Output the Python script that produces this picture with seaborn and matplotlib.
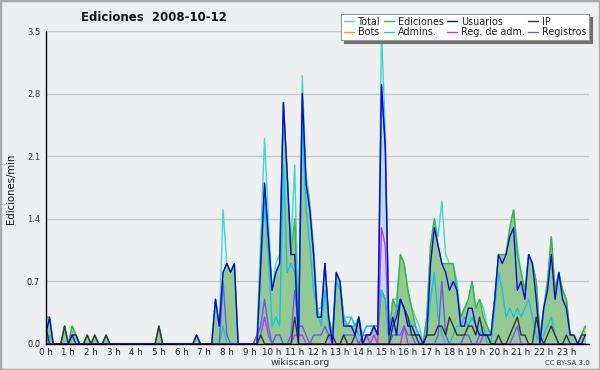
import numpy as np
import pandas as pd
import matplotlib
matplotlib.use("Agg")
import matplotlib.pyplot as plt
import seaborn as sns
from matplotlib.lines import Line2D
from matplotlib.patches import Rectangle
from matplotlib.ticker import MultipleLocator, FixedLocator

# 10-minute bins, 144 per day (one row = one hour)
total = [
    0.3, 0.3, 0, 0, 0, 0.2,
    0, 0.2, 0.1, 0, 0, 0.1,
    0, 0.1, 0, 0, 0.1, 0,
    0, 0, 0, 0, 0, 0,
    0, 0, 0, 0, 0, 0,
    0.2, 0, 0, 0, 0, 0,
    0, 0, 0, 0, 0.1, 0,
    0, 0, 0, 0.5, 0.2, 1.5,
    0.9, 0.8, 0.9, 0, 0, 0,
    0, 0, 0.1, 1.2, 2.3, 1.4,
    0.6, 0.9, 1.0, 2.7, 1.9, 1.1,
    2.0, 0.2, 3.0, 1.9, 1.6, 1.1,
    0.4, 0.4, 0.9, 0.3, 0.1, 0.8,
    0.7, 0.3, 0.3, 0.3, 0.2, 0.3,
    0.1, 0.2, 0.2, 0.2, 0.2, 3.5,
    2.4, 0.1, 0.5, 0.5, 1.0, 0.9,
    0.6, 0.4, 0.3, 0.2, 0, 0.3,
    1.1, 1.4, 1.2, 1.6, 1.0, 0.9,
    0.9, 0.7, 0.3, 0.4, 0.5, 0.7,
    0.4, 0.5, 0.4, 0.2, 0.1, 0.5,
    1.0, 1.0, 1.0, 1.3, 1.5, 1.1,
    0.8, 0.6, 1.0, 0.9, 0.7, 0.1,
    0.4, 0.7, 1.2, 0.6, 0.8, 0.6,
    0.5, 0.1, 0.1, 0, 0.1, 0.2,
]
ediciones = [
    0.3, 0.3, 0, 0, 0, 0.2,
    0, 0.2, 0.1, 0, 0, 0.1,
    0, 0.1, 0, 0, 0.1, 0,
    0, 0, 0, 0, 0, 0,
    0, 0, 0, 0, 0, 0,
    0.2, 0, 0, 0, 0, 0,
    0, 0, 0, 0, 0.1, 0,
    0, 0, 0, 0.5, 0.2, 0.8,
    0.9, 0.8, 0.9, 0, 0, 0,
    0, 0, 0, 1.0, 1.8, 1.2,
    0.6, 0.8, 0.9, 2.7, 1.9, 1.0,
    1.4, 0.1, 2.8, 1.8, 1.5, 1.0,
    0.3, 0.3, 0.9, 0.3, 0.1, 0.8,
    0.7, 0.3, 0.2, 0.2, 0.2, 0.3,
    0, 0.1, 0.1, 0.2, 0.1, 0.6,
    0.5, 0.1, 0.5, 0.4, 1.0, 0.9,
    0.6, 0.4, 0.2, 0.1, 0, 0.3,
    1.1, 1.4, 1.1, 0.9, 0.9, 0.9,
    0.9, 0.6, 0.3, 0.4, 0.5, 0.7,
    0.4, 0.5, 0.3, 0.2, 0.1, 0.5,
    1.0, 1.0, 1.0, 1.3, 1.5, 1.0,
    0.8, 0.6, 1.0, 0.9, 0.7, 0.1,
    0.4, 0.7, 1.2, 0.6, 0.8, 0.6,
    0.5, 0.1, 0.1, 0, 0.1, 0.2,
]
usuarios = [
    0.1, 0.3, 0, 0, 0, 0,
    0, 0.1, 0.1, 0, 0, 0,
    0, 0, 0, 0, 0, 0,
    0, 0, 0, 0, 0, 0,
    0, 0, 0, 0, 0, 0,
    0, 0, 0, 0, 0, 0,
    0, 0, 0, 0, 0.1, 0,
    0, 0, 0, 0.5, 0.2, 0.8,
    0.9, 0.8, 0.9, 0, 0, 0,
    0, 0, 0, 0.9, 1.8, 1.2,
    0.6, 0.8, 0.9, 2.7, 1.9, 1.0,
    1.0, 0, 2.8, 1.8, 1.5, 1.0,
    0.3, 0.3, 0.9, 0.3, 0, 0.8,
    0.7, 0.2, 0.2, 0.2, 0.1, 0.3,
    0, 0.1, 0.1, 0.2, 0.1, 2.9,
    2.2, 0.1, 0.3, 0.1, 0.5, 0.4,
    0.2, 0.2, 0.1, 0.1, 0, 0.1,
    0.9, 1.3, 1.1, 0.9, 0.8, 0.6,
    0.7, 0.6, 0.2, 0.2, 0.4, 0.4,
    0.2, 0.1, 0.1, 0.1, 0.1, 0.5,
    1.0, 0.9, 1.0, 1.2, 1.3, 0.6,
    0.7, 0.5, 1.0, 0.9, 0.5, 0,
    0.4, 0.6, 1.0, 0.5, 0.8, 0.5,
    0.4, 0.1, 0.1, 0, 0, 0.1,
]
ip = [
    0.2, 0, 0, 0, 0, 0.2,
    0, 0.1, 0, 0, 0, 0.1,
    0, 0.1, 0, 0, 0.1, 0,
    0, 0, 0, 0, 0, 0,
    0, 0, 0, 0, 0, 0,
    0.2, 0, 0, 0, 0, 0,
    0, 0, 0, 0, 0, 0,
    0, 0, 0, 0, 0, 0,
    0, 0, 0, 0, 0, 0,
    0, 0, 0, 0.1, 0, 0,
    0, 0, 0, 0, 0, 0,
    0.3, 0, 0, 0, 0, 0,
    0, 0, 0, 0.1, 0.1, 0,
    0, 0.1, 0, 0, 0.1, 0.3,
    0, 0, 0, 0, 0, 0,
    0, 0, 0.2, 0.3, 0.5, 0.4,
    0.3, 0.1, 0.1, 0, 0, 0.1,
    0.1, 0.1, 0.2, 0.2, 0.1, 0.3,
    0.2, 0.1, 0.1, 0.1, 0.2, 0.2,
    0.1, 0.3, 0.1, 0.1, 0, 0,
    0.1, 0, 0, 0.1, 0.2, 0.3,
    0.1, 0.1, 0, 0, 0.3, 0.1,
    0, 0.1, 0.2, 0.1, 0, 0,
    0.1, 0, 0, 0, 0.1, 0.1,
]
bots = [0] * 144
admins = [
    0, 0.1, 0, 0, 0, 0,
    0, 0, 0, 0, 0, 0,
    0, 0, 0, 0, 0, 0,
    0, 0, 0, 0, 0, 0,
    0, 0, 0, 0, 0, 0,
    0, 0, 0, 0, 0, 0,
    0, 0, 0, 0, 0, 0,
    0, 0, 0, 0, 0, 0.2,
    0, 0, 0, 0, 0, 0,
    0, 0, 0, 0.8, 1.6, 1.0,
    0.2, 0.3, 0.2, 2.0, 0.8, 0.9,
    0.8, 0.1, 2.5, 1.5, 1.1, 0.6,
    0.4, 0.2, 0.6, 0.2, 0, 0.7,
    0.6, 0.3, 0.2, 0.3, 0.2, 0.1,
    0.1, 0.2, 0.2, 0.2, 0.2, 0.6,
    0.5, 0, 0.2, 0.4, 0.5, 0.4,
    0.3, 0.2, 0.2, 0.1, 0, 0.1,
    0.5, 0.8, 0.3, 0.1, 0, 0,
    0.1, 0.2, 0.2, 0.3, 0.2, 0.3,
    0.2, 0.1, 0.2, 0, 0, 0.4,
    0.8, 0.6, 0.3, 0.4, 0.3, 0.4,
    0.3, 0.4, 0.5, 0.3, 0.1, 0,
    0.1, 0.2, 0.3, 0.1, 0, 0,
    0, 0, 0, 0, 0, 0,
]
reg_adm = [
    0, 0, 0, 0, 0, 0,
    0, 0, 0, 0, 0, 0,
    0, 0, 0, 0, 0, 0,
    0, 0, 0, 0, 0, 0,
    0, 0, 0, 0, 0, 0,
    0, 0, 0, 0, 0, 0,
    0, 0, 0, 0, 0, 0,
    0, 0, 0, 0, 0, 0,
    0, 0, 0, 0, 0, 0,
    0, 0, 0, 0.1, 0.3, 0.1,
    0, 0, 0, 0, 0, 0,
    0.1, 0.1, 0.1, 0, 0, 0,
    0, 0, 0, 0, 0, 0,
    0, 0, 0, 0, 0, 0,
    0, 0.1, 0, 0.1, 0, 1.3,
    1.1, 0, 0, 0, 0, 0.2,
    0, 0, 0, 0, 0, 0,
    0, 0, 0, 0, 0, 0,
    0, 0, 0, 0, 0, 0,
    0, 0, 0.1, 0.1, 0, 0,
    0, 0, 0, 0, 0, 0,
    0, 0, 0, 0, 0, 0,
    0, 0, 0, 0, 0, 0,
    0, 0, 0, 0, 0, 0,
]
registros = [
    0, 0, 0, 0, 0, 0,
    0, 0, 0, 0, 0, 0,
    0, 0, 0, 0, 0, 0,
    0, 0, 0, 0, 0, 0,
    0, 0, 0, 0, 0, 0,
    0, 0, 0, 0, 0, 0,
    0, 0, 0, 0, 0, 0,
    0, 0, 0, 0, 0, 0.7,
    0.1, 0, 0, 0, 0, 0,
    0, 0, 0.1, 0.2, 0.5, 0.2,
    0, 0.1, 0.1, 0, 0, 0.1,
    0.6, 0.2, 0.2, 0.1, 0, 0.1,
    0.1, 0.1, 0.2, 0.1, 0, 0,
    0, 0.1, 0.1, 0.1, 0.1, 0,
    0.1, 0.1, 0.1, 0.2, 0.1, 2.9,
    2.2, 0, 0.1, 0.1, 0.1, 0.2,
    0.1, 0.1, 0, 0, 0, 0,
    0, 0, 0.1, 0.7, 0.1, 0,
    0, 0, 0, 0.1, 0.1, 0,
    0, 0.1, 0.1, 0.1, 0, 0,
    0, 0, 0, 0, 0.1, 0.2,
    0, 0, 0, 0, 0, 0,
    0, 0, 0, 0, 0, 0,
    0, 0, 0, 0, 0, 0,
]

hour_labels = [f"{h} h" for h in range(24)]
y_labels = ["0.0", "0.7", "1.4", "2.1", "2.8", "3.5"]

hours = np.arange(len(total)) / 6.0
df = pd.DataFrame({
    "hora": hours, "Total": total, "Ediciones": ediciones, "Usuarios": usuarios,
    "IP": ip, "Bots": bots, "Admins.": admins, "Reg. de adm.": reg_adm,
    "Registros": registros,
})

colors = {
    "Total": "#3fd8cc",
    "Ediciones": "#3cb43c",
    "Usuarios": "#0a0ad8",
    "IP": "#333333",
    "Bots": "#f59a3a",
    "Admins.": "#1cbfe0",
    "Reg. de adm.": "#c433ee",
    "Registros": "#6a5af2",
}

sns.set_style("white")
plt.rcParams['font.family'] = ['DejaVu Sans']

BG = "#eeeff1"
fig = plt.figure(figsize=(6, 3.7), dpi=100, facecolor=BG)
ax = fig.add_axes([0.0762, 0.0703, 0.9055, 0.8459])
ax.set_facecolor(BG)

ax.fill_between(df["hora"], df["Registros"], color="#c2dae5", lw=0, zorder=1)
ax.fill_between(df["hora"], df["Ediciones"], color="#94c994", lw=0, zorder=2)

draw_order = ["Total", "Ediciones", "Bots", "Admins.", "Reg. de adm.",
              "Registros", "IP", "Usuarios"]
for k, name in enumerate(draw_order):
    sns.lineplot(data=df, x="hora", y=name, color=colors[name], lw=1.0,
                 ax=ax, legend=False, zorder=3 + k)

ax.set_xlim(0, 24)
ax.set_ylim(0, 3.5)
ax.set_xlabel("")
ax.set_ylabel("")

ax.yaxis.set_major_locator(FixedLocator([0, 0.7, 1.4, 2.1, 2.8, 3.5]))
ax.set_yticklabels(y_labels)
ax.yaxis.set_minor_locator(MultipleLocator(0.35))
ax.xaxis.set_major_locator(FixedLocator(list(range(24))))
ax.set_xticklabels(hour_labels)
ax.xaxis.set_minor_locator(MultipleLocator(1 / 6))

ax.grid(axis="y", color="#c9c9c9", lw=1.0, zorder=0)
ax.set_axisbelow(True)
for s in ["top", "right"]:
    ax.spines[s].set_visible(False)
for s in ["left", "bottom"]:
    ax.spines[s].set_color("black")
    ax.spines[s].set_linewidth(1.0)
    ax.spines[s].set_zorder(20)

ax.tick_params(axis="both", which="both", direction="out", length=3,
               width=0.9, color="black")
ax.tick_params(axis="y", labelsize=6, labelcolor="#333333", pad=1)
ax.tick_params(axis="x", labelsize=6.3, labelcolor="#222222", pad=0.2)

fig.text(0.257, 0.953, "Ediciones  2008-10-12", ha="center", va="center",
         fontsize=8.5, fontweight="bold", color="#111111")
fig.text(0.018, 0.49, "Ediciones/min", rotation=90, ha="center", va="center",
         fontsize=7.3, color="#111111")
fig.text(0.5, 0.02, "wikiscan.org", ha="center", va="center",
         fontsize=6.8, color="#333333")
fig.text(0.983, 0.02, "CC BY-SA 3.0", ha="right", va="center",
         fontsize=5, color="#333333")

leg_order = ["Total", "Bots", "Ediciones", "Admins.", "Usuarios",
             "Reg. de adm.", "IP", "Registros"]
handles = [Line2D([0], [0], color=colors[n], lw=1.0) for n in leg_order]
leg = fig.legend(handles, leg_order, loc="upper right",
                 bbox_to_anchor=(594 / 600, 1 - 9 / 370), ncol=4,
                 fontsize=6.9, handlelength=1.1, handletextpad=0.35,
                 columnspacing=0.35, labelspacing=0.05, borderpad=0.3,
                 frameon=True, fancybox=False,
                 shadow={"color": "#707070", "alpha": 1})
leg.get_frame().set_edgecolor("#999999")
leg.get_frame().set_linewidth(0.8)
leg.get_frame().set_facecolor("white")
for t in leg.get_texts():
    t.set_color("#222222")

fig.patches.append(Rectangle((0, 0), 1, 1, transform=fig.transFigure,
                             fill=False, edgecolor="#a9a9a9", lw=2.5))

fig.savefig("out.png", dpi=100, facecolor=BG)
